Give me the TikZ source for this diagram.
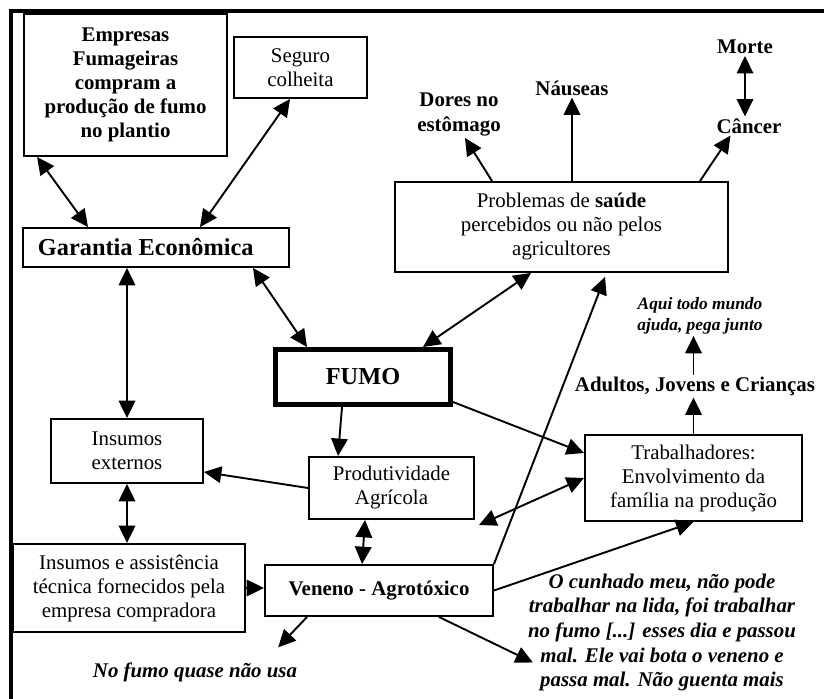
\documentclass[tikz,border=0pt]{standalone}
\usepackage{fontspec}
\setmainfont{Liberation Serif}
\usepackage{tikz}
\usetikzlibrary{calc, arrows.meta, positioning}

\tikzset{
  caixa/.style={draw, line width=1.1pt, align=center, inner sep=2pt, font=\fontsize{12}{13.8}\selectfont},
  caixab/.style={caixa, font=\fontsize{12}{13.8}\selectfont\bfseries},
  rotulo/.style={inner sep=1pt, align=center, font=\fontsize{12}{14}\selectfont\bfseries},
  fala/.style={inner sep=1pt, align=center, font=\fontsize{12}{14.2}\selectfont\bfseries\itshape},
  seta/.style={line width=1.1pt},
}

\begin{document}
\begin{tikzpicture}[x=0.575pt, y=-0.575pt, >={Triangle[length=10pt,width=9.5pt]}]
\useasboundingbox (0,0) rectangle (824,699);
\draw[line width=2.3pt] (824,11.5) -- (10.5,11.5) -- (10.5,699);
\node[caixab, minimum width=116.7pt, minimum height=81.7pt] (empresas) at (125.5,85) {Empresas\\Fumageiras\\compram a\\produção de fumo\\no plantio};
\node[caixa, minimum width=76.5pt, minimum height=35.1pt] (seguro) at (300.5,67.5) {Seguro\\colheita};
\node[caixab, font=\fontsize{14}{16}\selectfont\bfseries, align=flush left, text width=135.8pt, inner xsep=8.6pt, minimum height=22.4pt] (garantia) at (156,247.5) {Garantia Econômica};
\node[caixa, minimum width=191.5pt, minimum height=51.75pt] (problemas) at (561.5,227) {Problemas de \textbf{saúde}\\percebidos ou não pelos\\agricultores};
\node[caixab, font=\fontsize{14}{16}\selectfont\bfseries, line width=2.9pt, minimum width=100.6pt, minimum height=31.6pt] (fumo) at (363,377) {FUMO};
\node[caixa, minimum width=87.4pt, minimum height=36.8pt] (insext) at (127,451) {Insumos\\externos};
\node[caixa, minimum width=94.9pt, minimum height=35.7pt] (prod) at (391.5,488) {Produtividade\\Agrícola};
\node[caixa, minimum width=133.4pt, minimum height=50.6pt] (insassist) at (129,588) {Insumos e assistência\\técnica fornecidos pela\\empresa compradora};
\node[caixab, minimum width=131.1pt, minimum height=29.3pt] (veneno) at (379,590.5) {Veneno - Agrotóxico};
\node[caixa, minimum width=124.8pt, minimum height=49.5pt] (trab) at (693.5,478) {Trabalhadores:\\Envolvimento da\\família na produção};
\node[rotulo] (dores) at (459,114.5) {Dores no\\estômago};
\node[rotulo] (nauseas) at (572,88) {Náuseas};
\node[rotulo] (cancer) at (749,126) {Câncer};
\node[rotulo] (morte) at (745,47) {Morte};
\node[fala, font=\fontsize{10}{12}\selectfont\bfseries\itshape] (aqui) at (700,315.5) {Aqui todo mundo\\ajuda, pega junto};
\node[rotulo] (adultos) at (695,386) {Adultos, Jovens e Crianças};
\node[fala] (nofumo) at (195,672) {No fumo quase não usa};
\node[fala] (quote) at (662,632.5) {O cunhado meu, não pode\\trabalhar na lida, foi trabalhar\\no fumo [...] esses dia e passou\\mal. Ele vai bota o veneno e\\passa mal. Não guenta mais};
\draw[seta,<->] ($(empresas.south west)+(14,0)$) -- ($(garantia.north west)+(66,0)$);
\draw[seta,<->] ($(seguro.south west)+(57,0)$) -- ($(garantia.north west)+(178,0)$);
\draw[seta,<->] (garantia.south -| insext.north) -- (insext.north);
\draw[seta,<->] ($(garantia.south east)+(-37,0)$) -- ($(fumo.north west)+(34,0)$);
\draw[seta,<->] ($(fumo.north east)+(-30,0)$) -- ($(problemas.south west)+(137,0)$);
\draw[seta,->] ($(problemas.north west)+(98,0)$) -- ($(dores.south)+(6,0)$);
\draw[seta,->] (problemas.north -| nauseas) -- (nauseas.south);
\draw[seta,->] ($(problemas.north east)+(-29,0)$) -- ($(cancer.south west)+(16,0)$);
\draw[seta,<->] (morte.south) -- (morte.south |- cancer.north);
\draw[seta,<->] (insext.south) -- (insext.south |- insassist.north);
\draw[seta,->] (prod.west) -- ($(insext.east)+(0,21)$);
\draw[seta,->] ($(fumo.south west)+(69,0)$) -- ($(prod.north west)+(30,0)$);
\draw[seta,->] ($(fumo.south east)+(0,-5)$) -- ($(trab.west)+(0,-25)$);
\draw[seta,->] (trab.north) -- (trab.north |- adultos.south);
\draw[seta,->] (adultos.north -| trab.north) -- (trab.north |- aqui.south);
\draw[seta,<->] (trab.west) -- ($(prod.south east)+(4,5)$);
\draw[seta,->] (insassist.east) -- (insassist.east -| veneno.west);
\draw[seta,<->] ($(prod.south west)+(57,0)$) -- ($(veneno.north west)+(98,0)$);
\draw[seta,->] ($(veneno.south west)+(43,0)$) -- ($(nofumo.north east)+(-21,-13)$);
\draw[seta,->] ($(veneno.south east)+(-55,0)$) -- ($(quote.west)+(7,30)$);
\draw[seta,->] (veneno.east) -- (trab.south);
\draw[seta,->] (veneno.north east) -- ($(problemas.south west)+(211,4)$);
\end{tikzpicture}
\end{document}
